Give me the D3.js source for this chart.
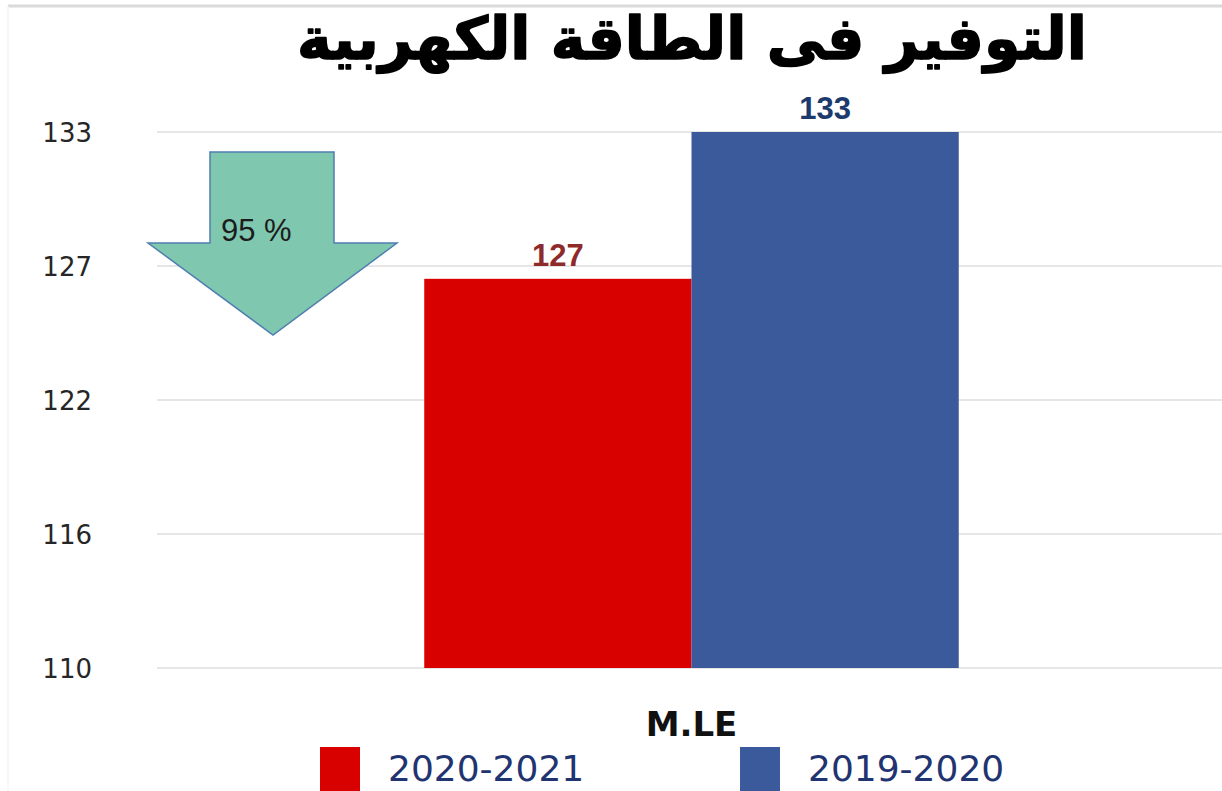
<!DOCTYPE html>
<html>
<head>
<meta charset="utf-8">
<script src="https://cdn.jsdelivr.net/npm/d3@7"></script>
<style>
  html, body { margin: 0; padding: 0; background: #ffffff; }
  svg { display: block; }
</style>
</head>
<body>
<svg id="chart" width="1222" height="791"></svg>
<script>
// ---- data ----
const title = "التوفير فى الطاقة الكهربية";
const categories = ["M.LE"];
const seriesNames = ["2020-2021", "2019-2020"];
const seriesValues = [126.7, 133];
const seriesColors = ["#d90000", "#3a5a9c"];
const labelColors = ["#8e2a2a", "#1d3a6e"];
const tickValues = [110, 115.75, 121.5, 127.25, 133];
const tickLabels = ["110", "116", "122", "127", "133"];
const arrowText = "95 %";

// ---- layout ----
const W = 1222, H = 791;
const plot = { left: 157, right: 1226, top: 132, bottom: 668 };

const svg = d3.select("#chart");

// frame lines
svg.append("line").attr("x1", 8).attr("x2", W).attr("y1", 6).attr("y2", 6)
  .attr("stroke", "#dadada").attr("stroke-width", 3);
svg.append("line").attr("x1", 8).attr("x2", 8).attr("y1", 6).attr("y2", H)
  .attr("stroke", "#f4f4f4").attr("stroke-width", 1.5);

// scales
const y = d3.scaleLinear().domain([110, 133]).range([plot.bottom, plot.top]);
const x0 = d3.scaleBand().domain(categories).range([plot.left, plot.right])
  .paddingInner(0).paddingOuter(0.5);
const x1 = d3.scaleBand().domain(seriesNames).range([0, x0.bandwidth()]).padding(0);

// gridlines
svg.append("g").selectAll("line").data(tickValues).join("line")
  .attr("x1", plot.left).attr("x2", W)
  .attr("y1", d => y(d)).attr("y2", d => y(d))
  .attr("stroke", "#e6e6e6").attr("stroke-width", 2);

// y axis
const yAxis = d3.axisLeft(y).tickValues(tickValues)
  .tickFormat((d, i) => tickLabels[i]).tickSize(0).tickPadding(65);
const gy = svg.append("g").attr("transform", `translate(${plot.left},0)`).call(yAxis);
gy.select(".domain").remove();
gy.selectAll("text").attr("font-family", "DejaVu Sans").attr("font-size", 26)
  .attr("fill", "#262626").attr("dy", "0.36em");

// bars
const groups = svg.append("g").selectAll("g").data(categories).join("g")
  .attr("transform", d => `translate(${x0(d)},0)`);
groups.selectAll("rect").data(seriesNames.map((s, i) => ({ s, v: seriesValues[i], i })))
  .join("rect")
  .attr("x", d => x1(d.s)).attr("width", x1.bandwidth())
  .attr("y", d => y(d.v)).attr("height", d => y(110) - y(d.v))
  .attr("fill", d => seriesColors[d.i]);
groups.selectAll("text.val").data(seriesNames.map((s, i) => ({ s, v: seriesValues[i], i })))
  .join("text").attr("class", "val")
  .attr("x", d => x1(d.s) + x1.bandwidth() / 2)
  .attr("y", d => y(d.v) - 13)
  .attr("text-anchor", "middle")
  .attr("font-family", "Liberation Sans").attr("font-weight", "bold").attr("font-size", 31)
  .attr("fill", d => labelColors[d.i])
  .text(d => d3.format(".0f")(d.v));

// x axis category label
const xAxis = d3.axisBottom(x0).tickSize(0).tickPadding(44);
const gx = svg.append("g").attr("transform", `translate(0,${plot.bottom})`).call(xAxis);
gx.select(".domain").remove();
gx.selectAll("text").attr("font-family", "DejaVu Sans").attr("font-weight", "bold")
  .attr("font-size", 34).attr("fill", "#111");

// legend
const legend = svg.append("g");
const legX = [320, 740];
seriesNames.forEach((s, i) => {
  legend.append("rect").attr("x", legX[i]).attr("y", 747).attr("width", 40).attr("height", 46)
    .attr("fill", seriesColors[i]);
  legend.append("text").attr("x", legX[i] + 68).attr("y", 781)
    .attr("font-family", "DejaVu Sans").attr("font-size", 36)
    .attr("fill", "#1f3470").text(s);
});

// title
const t = svg.append("text").attr("x", 692).attr("y", 59).attr("text-anchor", "middle")
  .attr("font-family", "DejaVu Sans").attr("font-weight", "bold").attr("font-size", 50)
  .attr("fill", "#000").attr("stroke", "#000").attr("stroke-width", 1.6)
  .attr("stroke-linejoin", "round")
  .attr("direction", "rtl").text(title);
const tw = t.node().getComputedTextLength();
if (tw > 0) t.attr("font-size", 50 * 790 / tw);

// arrow annotation (95 %)
const arrow = [[210, 152], [334, 152], [334, 243], [397, 243], [273, 335], [148, 243], [210, 243]];
svg.append("polygon").attr("points", arrow.map(p => p.join(",")).join(" "))
  .attr("fill", "#80c7af").attr("stroke", "#4f7fb0").attr("stroke-width", 1.5);
svg.append("text").attr("x", 221).attr("y", 241)
  .attr("font-family", "Liberation Sans").attr("font-size", 31).attr("fill", "#1c1c1c")
  .text(arrowText);
</script>
</body>
</html>
